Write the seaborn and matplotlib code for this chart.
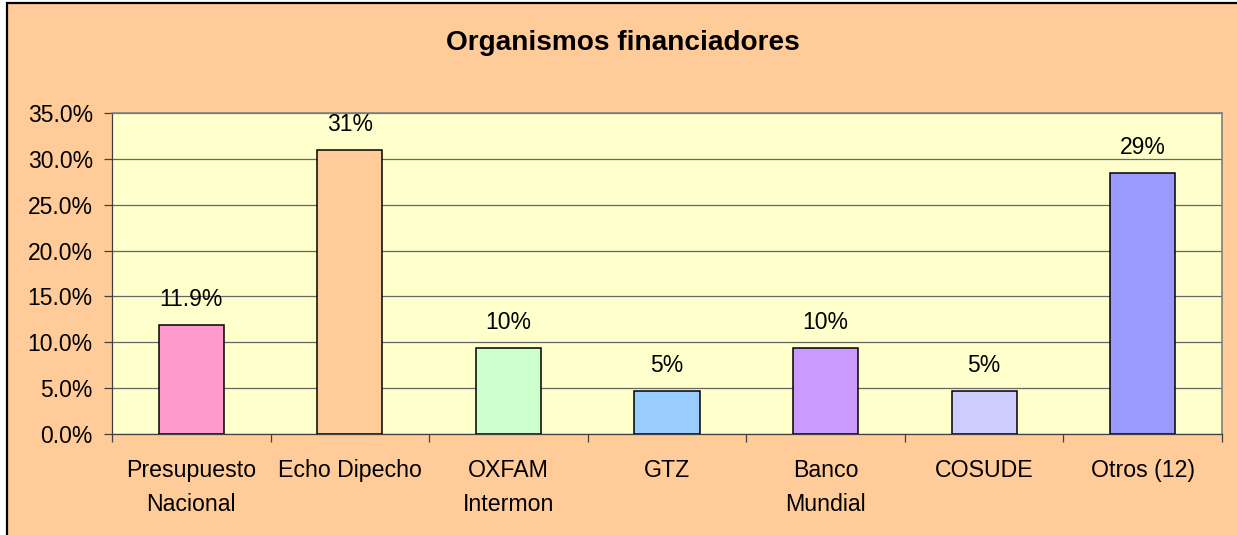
import numpy as np
import pandas as pd
import matplotlib
matplotlib.use("Agg")
import matplotlib.pyplot as plt
import matplotlib.ticker as mticker
from matplotlib.patches import Rectangle
import seaborn as sns

# ── Data ────────────────────────────────────────────────────
categories = ["Presupuesto\nNacional", "Echo Dipecho", "OXFAM\nIntermon", "GTZ",
              "Banco\nMundial", "COSUDE", "Otros (12)"]
shares = [11.9, 31.0, 9.4, 4.7, 9.4, 4.7, 28.5]          # percent
value_labels = ["11.9%", "31%", "10%", "5%", "10%", "5%", "29%"]
bar_colors = ["#FF99CC", "#FFCC99", "#CCFFCC", "#99CCFF",
              "#CC99FF", "#CCCCFF", "#9999FF"]

df = pd.DataFrame({"organismo": categories, "porcentaje": shares})

# ── Style ───────────────────────────────────────────────────
sns.set_theme(style="white")
plt.rcParams["font.family"] = ["Liberation Sans", "DejaVu Sans"]
plt.rcParams["text.color"] = "black"
plt.rcParams["xtick.color"] = "black"
plt.rcParams["ytick.color"] = "black"

W, H = 1237, 535
fig = plt.figure(figsize=(W / 100, H / 100), dpi=100, facecolor="white")

# outer chart frame (peach area with black border, cropped at right/bottom)
frame = Rectangle((6.5 / W, -0.05), 1.1, 1.05 - 3 / H, transform=fig.transFigure,
                  facecolor="#FFCC99", edgecolor="black", linewidth=1.6, zorder=-1)
fig.patches.append(frame)

ax = fig.add_axes([112 / W, 1 - 434 / H, (1222 - 112) / W, (434 - 113) / H])
ax.set_facecolor("#FFFFCC")

sns.barplot(data=df, x="organismo", y="porcentaje", hue="organismo",
            palette=bar_colors, saturation=1, legend=False, width=0.41,
            edgecolor="black", linewidth=1.1, ax=ax, zorder=3)

for patch, lbl in zip(ax.patches, value_labels):
    ax.annotate(lbl, (patch.get_x() + patch.get_width() / 2, patch.get_height()),
                xytext=(0, 10), textcoords="offset points",
                ha="center", va="bottom", fontsize=16.5, color="black")

# y axis
ax.set_ylim(0, 35)
ax.set_yticks(np.arange(0, 36, 5))
ax.yaxis.set_major_formatter(mticker.FuncFormatter(lambda v, _: f"{v:.1f}%"))
ax.yaxis.grid(True, color="#666666", linewidth=0.9, zorder=0)
ax.set_axisbelow(True)

# x axis: labels at centres, ticks on category boundaries
ax.set_xlim(-0.5, len(categories) - 0.5)
ax.set_xticks(np.arange(-0.5, len(categories), 1.0), minor=True)
ax.tick_params(axis="x", which="major", length=0, pad=18, labelsize=16.7,
               labelcolor="black")
ax.tick_params(axis="x", which="minor", length=5.8, width=0.9,
               direction="out", color="#404040", bottom=True)
ax.tick_params(axis="y", length=5.8, width=0.9, direction="out",
               color="#404040", pad=8, labelsize=16.5, left=True,
               labelcolor="black")
for t in ax.get_xticklabels():
    t.set_linespacing(1.6)
    t.set_verticalalignment("top")

ax.set_xlabel("")
ax.set_ylabel("")

for side in ["left", "bottom"]:
    ax.spines[side].set_color("#404040")
    ax.spines[side].set_linewidth(0.9)
for side in ["top", "right"]:
    ax.spines[side].set_color("#808080")
    ax.spines[side].set_linewidth(1.2)
    ax.spines[side].set_visible(True)

fig.text(623 / W, 1 - 43 / H, "Organismos financiadores", ha="center", va="center",
         fontsize=20.2, fontweight="bold", color="black")

fig.savefig("out.png", dpi=100, facecolor=fig.get_facecolor())
